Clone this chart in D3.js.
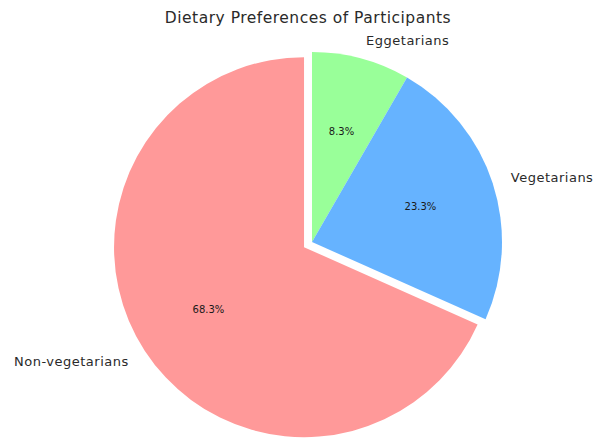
<!DOCTYPE html>
<html>
<head>
<meta charset="utf-8">
<script src="https://cdn.jsdelivr.net/npm/d3@7"></script>
<style>
  html, body { margin: 0; padding: 0; background: #fff; }
  svg { display: block; }
  text { font-family: "DejaVu Sans", sans-serif; }
</style>
</head>
<body>
<svg id="chart" width="598" height="441"></svg>
<script>
const categories = ["Eggetarians", "Vegetarians", "Non-vegetarians"];
const values = [5, 14, 41];
const colors = ["#99ff99", "#66b3ff", "#ff9999"];
const explode = [0, 0, 0.05];
const titleText = "Dietary Preferences of Participants";

const W = 598, H = 441;
const cx = 312, cy = 242, R = 190;

const svg = d3.select("#chart");
svg.append("rect").attr("width", W).attr("height", H).attr("fill", "#fff");

const data = categories.map((c, i) => ({ label: c, value: values[i], color: colors[i], explode: explode[i] }));
const total = d3.sum(values);

const pie = d3.pie().value(d => d.value).sort(null).startAngle(0).endAngle(2 * Math.PI);
const arcs = pie(data);
const arc = d3.arc().innerRadius(0).outerRadius(R);

const g = svg.append("g").attr("transform", `translate(${cx},${cy})`);

arcs.forEach(a => {
  const mid = (a.startAngle + a.endAngle) / 2;
  const dx = Math.sin(mid) * a.data.explode * R;
  const dy = -Math.cos(mid) * a.data.explode * R;
  const wg = g.append("g").attr("transform", `translate(${dx},${dy})`);
  wg.append("path").attr("d", arc(a)).attr("fill", a.data.color);

  const lx = Math.sin(mid) * R * 1.1, ly = -Math.cos(mid) * R * 1.1;
  wg.append("text")
    .attr("x", lx).attr("y", ly)
    .attr("text-anchor", lx >= 0 ? "start" : "end")
    .attr("dominant-baseline", "central")
    .attr("font-size", 13).attr("letter-spacing", 0.5).attr("fill", "#2a2a2a")
    .text(a.data.label);

  const px = Math.sin(mid) * R * 0.6, py = -Math.cos(mid) * R * 0.6;
  wg.append("text")
    .attr("x", px).attr("y", py)
    .attr("text-anchor", "middle")
    .attr("dominant-baseline", "central")
    .attr("font-size", 10).attr("fill", "#1a1a1a")
    .text((a.data.value / total * 100).toFixed(1) + "%");
});

svg.append("text")
  .attr("x", 308).attr("y", 18)
  .attr("text-anchor", "middle")
  .attr("dominant-baseline", "central")
  .attr("font-size", 15.5).attr("letter-spacing", 0.5).attr("fill", "#2a2a2a")
  .text(titleText);
</script>
</body>
</html>
